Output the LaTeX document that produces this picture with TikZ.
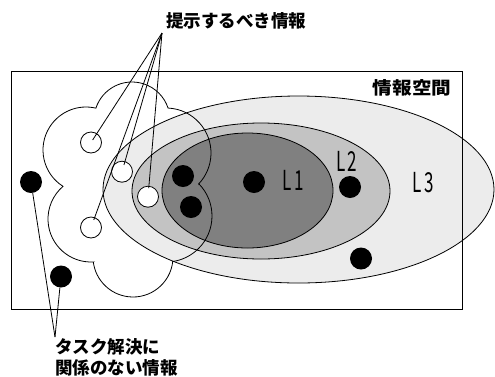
\documentclass[tikz,border=0pt]{standalone}
\usepackage{fontspec}
\newfontfamily\jp{Noto Sans CJK JP}
\usetikzlibrary{calc}
\definecolor{lthree}{gray}{0.925}
\definecolor{ltwo}{gray}{0.765}
\definecolor{lone}{gray}{0.50}
\begin{document}
\begin{tikzpicture}[x=1pt,y=-1pt,
  dot/.style={circle,fill=black,draw=none,minimum size=22pt,inner sep=0pt},
  wdot/.style={circle,fill=white,draw=black,line width=0.8pt,minimum size=21pt,inner sep=0pt},
  lbl/.style={font=\jp\bfseries\fontsize{17.5}{21}\selectfont,inner sep=0pt},
  lev/.style={font=\jp\fontsize{27.5}{27.5}\selectfont,xscale=0.62,inner sep=0pt},
  ptr/.style={draw=black,line width=0.8pt},
  ring/.style={draw=black,line width=0.8pt}]
\useasboundingbox (0,0) rectangle (495,376);
\fill[white] (0,0) rectangle (495,376);
% levels
\path[ring,fill=lthree] (298.5,189.5) ellipse [x radius=195.5, y radius=93.5];
\path[ring,fill=ltwo] (261,191) ellipse [x radius=129, y radius=68];
\path[ring,fill=lone] (247.5,190.5) ellipse [x radius=85.5, y radius=57.5];
% frame
\draw[line width=0.9pt] (11,71) rectangle (462,309);
% cloud
\draw[ring] ([shift={(-161.8:38)}]132,120) arc[start angle=-161.8,end angle=-18.4,radius=38]
 -- ([shift={(-87.3:45)}]166,153) arc[start angle=-87.3,end angle=43.2,radius=45]
 -- ([shift={(-44.5:46)}]166,216) arc[start angle=-44.5,end angle=81.6,radius=46]
 -- ([shift={(6.5:40)}]133,257) arc[start angle=6.5,end angle=172.9,radius=40]
 -- ([shift={(86.9:43)}]91,219) arc[start angle=86.9,end angle=229.4,radius=43]
 -- ([shift={(122.3:43)}]86,150) arc[start angle=122.3,end angle=283.3,radius=43]
 -- cycle;
% labels
\node[lbl] (ttop) at (236,21) {提示するべき情報};
\node[lbl,xscale=1.12] (tspace) at (412,88) {情報空間};
\node[lbl,align=left,anchor=west] (tbot) at (55,357.5) {タスク解決に\\関係のない情報};
\node[lev] (lv1) at (293,180.5) {L\kern4pt1};
\node[lev] (lv2) at (346.7,161) {L\kern4pt2};
\node[lev] (lv3) at (423.3,183) {L\kern4pt3};
\coordinate (tapex) at (162,33);
\coordinate (bapex) at (55,337);
% white items
\node[wdot] (w1) at (91,142.5) {};
\node[wdot] (w2) at (122,171.7) {};
\node[wdot] (w3) at (148,196.7) {};
\node[wdot] (w4) at (91,227.5) {};
% black items
\node[dot] (b1) at (254,182) {};
\node[dot] (b2) at (350,187) {};
\node[dot] (b3) at (361,258.5) {};
\node[dot] (b4) at (183,176) {};
\node[dot] (b5) at (191,207) {};
\node[dot] (b6) at (31,182) {};
\node[dot] (b7) at (61,276.5) {};
% pointers
\draw[ptr] (tapex) -- ($(w1)!3pt!(tapex)$);
\draw[ptr] (tapex) -- ($(w2)!7pt!(tapex)$);
\draw[ptr] (tapex) -- ($(w3)!8.5pt!(tapex)$);
\draw[ptr] (tapex) -- ($(w4)!8pt!(tapex)$);
\draw[ptr] (bapex) -- (b6);
\draw[ptr] (bapex) -- (b7);
\end{tikzpicture}
\end{document}
